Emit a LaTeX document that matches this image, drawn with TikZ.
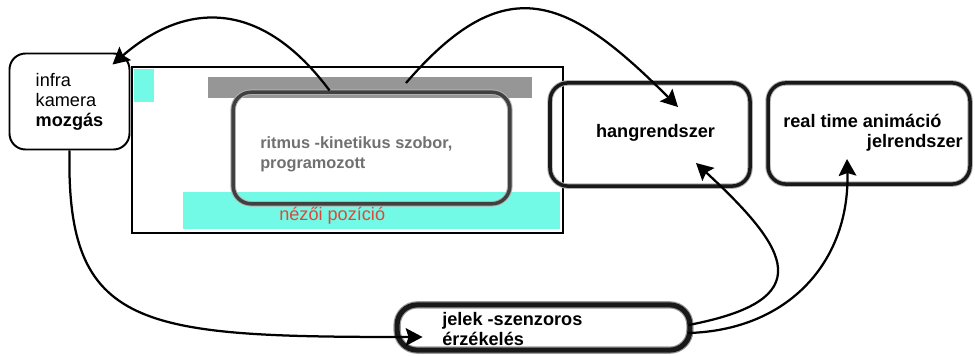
\documentclass[tikz,border=0pt]{standalone}
\usepackage{fontspec}
\setmainfont{Liberation Sans}
\usetikzlibrary{arrows.meta,calc}

\definecolor{nezocyan}{RGB}{115,250,230}
\definecolor{savgray}{RGB}{150,150,150}
\definecolor{szoborgray}{RGB}{112,112,112}
\definecolor{nezored}{RGB}{222,72,58}

\begin{document}
\begin{tikzpicture}[x=0.25mm, y=-0.25mm,
  every node/.style={font=\fontsize{12.9}{14.2}\selectfont, inner sep=0pt},
  sketchbox/.style={rounded corners=4.5mm, draw=black!90, line width=2.5pt,
    preaction={draw=black!30, line width=3.9pt}},
  arr/.style={line width=1.6pt, -{Stealth[length=4.2mm, width=4.4mm, inset=0.7mm]}}]

\useasboundingbox (0,0) rectangle (975,355);

% szinpad
\fill[nezocyan] (134,69) rectangle (154,102);

\fill[nezocyan] (183,192) rectangle (560,229);

\draw (370,87.5) node[fill=savgray, minimum width=81mm, minimum height=5.25mm] (sav){};

\draw[line width=1.8pt] (132,67) rectangle (563,233);

\draw (371.5,148) node[sketchbox, draw=black!75, minimum width=69.2mm, minimum height=27.9mm] (szobor){};

\draw (260,148) node[anchor=base west, text=szoborgray, font=\fontsize{11.6}{14.2}\selectfont\bfseries] (szoborA){ritmus -kinetikus szobor,};
\draw (260,168) node[anchor=base west, text=szoborgray, font=\fontsize{11.6}{14.2}\selectfont\bfseries] (szoborB){programozott};

\draw (279,220) node[anchor=base west, text=nezored] (nezo){nézői pozíció};

% dobozok
\draw (69.5,101.5) node[draw, line width=1.4pt, rounded corners=4mm, minimum width=30mm, minimum height=24mm, align=left] (infra){infra\\kamera\\\textbf{mozgás}};

\draw (650,134.5) node[sketchbox, minimum width=50mm, minimum height=25.8mm] (hang){};
\draw (655.5,137) node[anchor=base, font=\fontsize{12.9}{14.2}\selectfont\bfseries] (hangtxt){hangrendszer};

\draw (869,133.5) node[sketchbox, minimum width=50.5mm, minimum height=25.3mm] (rt){};
\draw (783,127) node[anchor=base west, font=\fontsize{12.9}{14.2}\selectfont\bfseries] (rtA){real time animáció};
\draw (963,147) node[anchor=base east, font=\fontsize{12.9}{14.2}\selectfont\bfseries] (rtB){jelrendszer};

\draw (543.5,327.5) node[sketchbox, rounded corners=5mm, line width=3.6pt, preaction={draw=black!40, line width=5.2pt}, minimum width=73.2mm, minimum height=11.3mm] (jelek){};
\draw (442,325) node[anchor=base west, font=\fontsize{12.9}{14.2}\selectfont\bfseries] (jelekA){jelek -szenzoros};
\draw (442,345) node[anchor=base west, font=\fontsize{12.9}{14.2}\selectfont\bfseries] (jelekB){érzékelés};

% nyilak
\draw[arr] ($(szobor.north)+(-42,0)$) .. controls (262,0) and (187,0) .. ($(infra.north east)+(-18,12)$);

\draw[arr] ($(sav.center)+(36,-4.5)$) .. controls (506,-33) and (568,-3) .. ($(hang.center)+(28,-27.5)$);

\draw[arr] (infra.south) .. controls (66,330) and (140,337) .. ($(jelek.west)+(28,9.5)$);

\draw[arr] ($(jelek.east)+(-4,-2.5)$) .. controls (820,300) and (790,250) .. ($(hang.center)+(46,28.5)$);

\draw[arr] ($(jelek.east)+(-4,5.5)$) .. controls (790,330) and (850,260) .. ($(rt.center)+(-22,25.5)$);

\end{tikzpicture}
\end{document}
